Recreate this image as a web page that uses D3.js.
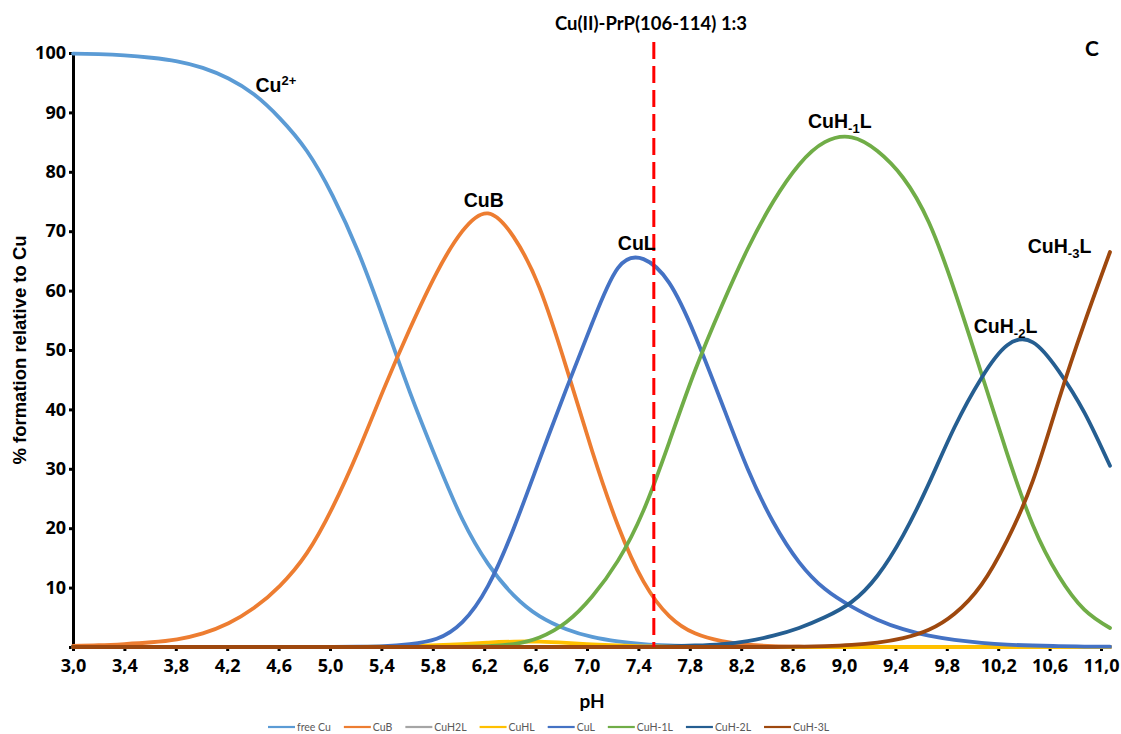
<!DOCTYPE html>
<html>
<head>
<meta charset="utf-8">
<script src="https://cdn.jsdelivr.net/npm/d3@7"></script>
<style>
  body { margin: 0; background: #fff; }
  svg { display: block; }
</style>
</head>
<body>
<div id="chart"></div>
<script>
// pH of the read points (x values) and species distribution (% relative to Cu)
const ph = [3.00, 3.20, 3.40, 3.61, 3.81, 4.01, 4.21, 4.41, 4.61, 4.82, 5.02, 5.22, 5.42, 5.62, 5.83, 6.03, 6.23, 6.43, 6.63, 6.84,
  7.04, 7.24, 7.44, 7.64, 7.84, 8.05, 8.25, 8.45, 8.65, 8.85, 9.06, 9.26, 9.46, 9.66, 9.86, 10.07, 10.27, 10.47, 10.67, 10.87, 11.07];

const freeCu = [99.9, 99.8, 99.6, 99.2, 98.6, 97.5, 95.7, 93.0, 89.0, 83.5, 76, 66.5, 55, 43, 31.5, 21.5, 14, 8.7, 5.2, 3.0,
  1.7, 0.95, 0.5, 0.27, 0.14, 0.07, 0.03, 0.01, 0, 0, 0, 0, 0, 0, 0, 0, 0, 0, 0, 0, 0];
const cuB = [0.2, 0.3, 0.5, 0.8, 1.3, 2.3, 4.0, 6.6, 10.3, 15.8, 23.5, 33, 43.5, 53.5, 63, 70, 73, 69, 60.5, 47,
  33, 20.5, 11, 5.2, 2.3, 1.0, 0.4, 0.15, 0.05, 0, 0, 0, 0, 0, 0, 0, 0, 0, 0, 0, 0];
const cuH2L = [0, 0, 0, 0, 0, 0, 0, 0, 0, 0, 0, 0, 0, 0.02, 0.04, 0.05, 0.04, 0.02, 0, 0,
  0, 0, 0, 0, 0, 0, 0, 0, 0, 0, 0, 0, 0, 0, 0, 0, 0, 0, 0, 0, 0];
const cuHL = [0, 0, 0, 0, 0, 0, 0, 0, 0, 0, 0, 0, 0.05, 0.15, 0.3, 0.5, 0.75, 0.9, 0.9, 0.7,
  0.45, 0.25, 0.12, 0.05, 0.02, 0, 0, 0, 0, 0, 0, 0, 0, 0, 0, 0, 0, 0, 0, 0, 0];
const cuL = [0, 0, 0, 0, 0, 0, 0, 0, 0, 0, 0, 0.05, 0.15, 0.5, 1.4, 4.2, 10.3, 20, 31.5, 43.5,
  54.5, 63.8, 65.3, 61.3, 52.5, 41, 30, 21, 14.3, 9.8, 6.8, 4.6, 3.0, 1.9, 1.2, 0.7, 0.4, 0.25, 0.15, 0.08, 0.05];
const cuHm1L = [0, 0, 0, 0, 0, 0, 0, 0, 0, 0, 0, 0, 0, 0, 0, 0.05, 0.15, 0.5, 1.6, 4.2,
  8.5, 14.5, 23, 34.5, 46.5, 57.5, 67, 75, 81.2, 85, 85.8, 83.5, 79, 71.5, 60, 46, 32.5, 20.5, 12, 6.3, 3.2];
const cuHm2L = [0, 0, 0, 0, 0, 0, 0, 0, 0, 0, 0, 0, 0, 0, 0, 0, 0, 0, 0, 0,
  0, 0, 0, 0.1, 0.25, 0.5, 1.0, 1.9, 3.2, 5.0, 7.6, 12, 18.8, 27.5, 37, 45.3, 50.8, 51.3, 46.5, 39.5, 30.5];
const cuHm3L = [0, 0, 0, 0, 0, 0, 0, 0, 0, 0, 0, 0, 0, 0, 0, 0, 0, 0, 0, 0,
  0, 0, 0, 0, 0, 0, 0, 0, 0.05, 0.15, 0.35, 0.75, 1.5, 2.9, 5.6, 10.5, 18, 28, 41.5, 54.5, 66.5];

const seriesNames = ["free Cu", "CuB", "CuH2L", "CuHL", "CuL", "CuH-1L", "CuH-2L", "CuH-3L"];
const seriesColors = ["#5B9BD5", "#ED7D31", "#A5A5A5", "#FFC000", "#4472C4", "#70AD47", "#255E91", "#9E480E"];
const seriesValues = [freeCu, cuB, cuH2L, cuHL, cuL, cuHm1L, cuHm2L, cuHm3L];

const xTicks = [3.0, 3.4, 3.8, 4.2, 4.6, 5.0, 5.4, 5.8, 6.2, 6.6, 7.0, 7.4, 7.8, 8.2, 8.6, 9.0, 9.4, 9.8, 10.2, 10.6, 11.0];
const yTicks = [0, 10, 20, 30, 40, 50, 60, 70, 80, 90, 100];
const ratioLinePh = 7.52;

const width = 1121, height = 734;
const margin = { top: 53, right: 11, bottom: 87, left: 73 };

const svg = d3.select("#chart")
  .append("svg")
  .attr("width", width)
  .attr("height", height);

svg.append("rect").attr("width", width).attr("height", height).attr("fill", "#fff");

// axis runs a little past the last labelled tick, as in the original
const x = d3.scaleLinear().domain([3, d3.max(ph)]).range([margin.left, width - margin.right]);
const y = d3.scaleLinear().domain([0, 100]).range([height - margin.bottom, margin.top]);

const tickFont = "'Open Sans', 'DejaVu Sans', sans-serif";
const boldFont = "'Liberation Sans', Arial, sans-serif";
const calibriLike = "Lato, 'Open Sans', sans-serif";

// Y axis
const yAxis = svg.append("g")
  .attr("transform", `translate(${margin.left},0)`)
  .call(d3.axisLeft(y).tickValues(yTicks).tickSize(4).tickSizeOuter(0).tickPadding(3)
    .tickFormat(d => d === 0 ? "" : d));
yAxis.select(".domain").attr("stroke", "#000").attr("stroke-width", 3);
yAxis.selectAll(".tick line").attr("stroke", "#000").attr("stroke-width", 3);
yAxis.selectAll(".tick text")
  .attr("fill", "#000")
  .style("font-family", tickFont)
  .style("font-weight", "bold")
  .style("font-size", "18px");

// X axis
const xAxis = svg.append("g")
  .attr("transform", `translate(0,${y(0)})`)
  .call(d3.axisBottom(x).tickValues(xTicks).tickSize(4).tickSizeOuter(0)
    .tickFormat(d => d.toFixed(1).replace(".", ",")));
xAxis.select(".domain").attr("stroke", "#000").attr("stroke-width", 3);
xAxis.selectAll(".tick line").attr("stroke", "#000").attr("stroke-width", 3);
xAxis.selectAll(".tick text")
  .attr("fill", "#000")
  .attr("y", 12)
  .style("font-family", tickFont)
  .style("font-weight", "bold")
  .style("font-size", "18px");

// Axis titles
svg.append("text")
  .attr("transform", `translate(26,${(y(0) + y(100)) / 2}) rotate(-90)`)
  .attr("text-anchor", "middle")
  .style("font-family", boldFont)
  .style("font-weight", "bold")
  .style("font-size", "18.5px")
  .text("% formation relative to Cu");

svg.append("text")
  .attr("x", 592)
  .attr("y", 708)
  .attr("text-anchor", "middle")
  .style("font-family", calibriLike)
  .style("font-weight", "bold")
  .style("font-size", "19px")
  .text("pH");

// Species curves
const line = d3.line()
  .x((d, i) => x(ph[i]))
  .y(d => y(d))
  .curve(d3.curveNatural);

svg.append("g")
  .selectAll("path")
  .data(seriesValues)
  .join("path")
  .attr("fill", "none")
  .attr("stroke", (d, i) => seriesColors[i])
  .attr("stroke-width", 3.8)
  .attr("stroke-linecap", "round")
  .attr("d", d => line(d));

// Red dashed 1:3 marker
svg.append("line")
  .attr("x1", x(ratioLinePh)).attr("x2", x(ratioLinePh))
  .attr("y1", 42).attr("y2", y(0))
  .attr("stroke", "#FF0000")
  .attr("stroke-width", 3)
  .attr("stroke-dasharray", "17,7");

svg.append("text")
  .attr("x", 651)
  .attr("y", 30)
  .attr("text-anchor", "middle")
  .style("font-family", calibriLike)
  .style("font-weight", "bold")
  .style("font-size", "18.5px")
  .text("Cu(II)-PrP(106-114) 1:3");

svg.append("text")
  .attr("x", 1085)
  .attr("y", 56)
  .style("font-family", calibriLike)
  .style("font-weight", "bold")
  .style("font-size", "21px")
  .text("C");

// Curve annotations: [main, sub/sup, tail, isSup, pH, value]
const annotations = [
  ["Cu", "2+", "", true, 4.42, 93.4],
  ["CuB", "", "", false, 6.04, 74.1],
  ["CuL", "", "", false, 7.24, 66.8],
  ["CuH", "-1", "L", false, 8.72, 87.4],
  ["CuH", "-2", "L", false, 10.01, 52.9],
  ["CuH", "-3", "L", false, 10.43, 66.3]
];

annotations.forEach(a => {
  const t = svg.append("text")
    .attr("x", x(a[4]))
    .attr("y", y(a[5]))
    .style("font-family", boldFont)
    .style("font-weight", "bold")
    .style("font-size", "19.5px");
  t.append("tspan").text(a[0]);
  if (a[1]) {
    t.append("tspan")
      .attr("dy", a[3] ? -7 : 5)
      .style("font-size", "13px")
      .text(a[1]);
  }
  if (a[2]) {
    t.append("tspan").attr("dy", a[3] ? 7 : -5).text(a[2]);
  }
});

// Legend
const legend = svg.append("g").attr("transform", "translate(268,727)");
let lx = 0;
seriesNames.forEach((name, i) => {
  const g = legend.append("g").attr("transform", `translate(${lx},0)`);
  g.append("line")
    .attr("x1", 0).attr("x2", 27)
    .attr("stroke", seriesColors[i])
    .attr("stroke-width", 2.2);
  const txt = g.append("text")
    .attr("x", 29)
    .attr("dy", "0.35em")
    .attr("fill", "#595959")
    .style("font-family", calibriLike)
    .style("font-size", "10.5px")
    .text(name);
  lx += 29 + txt.node().getComputedTextLength() + 13;
});
</script>
</body>
</html>
